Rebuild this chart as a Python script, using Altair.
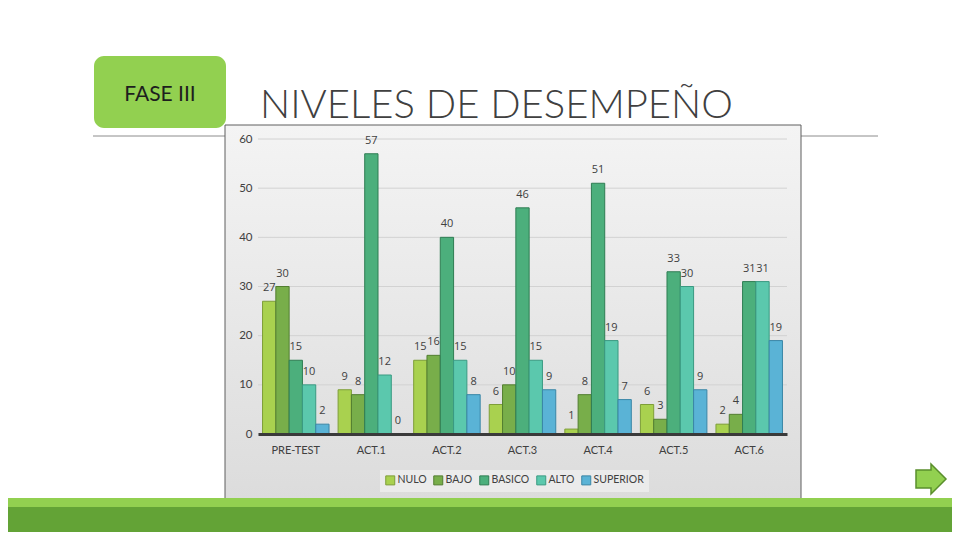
import altair as alt
import pandas as pd

# ---- data ----
categories = ["PRE-TEST", "ACT.1", "ACT.2", "ACT.3", "ACT.4", "ACT.5", "ACT.6"]
series = ["NULO", "BAJO", "BASICO", "ALTO", "SUPERIOR"]
nulo = [27, 9, 15, 6, 1, 6, 2]
bajo = [30, 8, 16, 10, 8, 3, 4]
basico = [15, 57, 40, 46, 51, 33, 31]
alto = [10, 12, 15, 15, 19, 30, 31]
superior = [2, 0, 8, 9, 7, 9, 19]
y_ticks = [0, 10, 20, 30, 40, 50, 60]

fills = ["#a9d14f", "#78ae4a", "#4caf7c", "#5bc8ad", "#5ab3d6"]
strokes = ["#7e9e38", "#527e30", "#2f7d53", "#3a9a82", "#3a86a6"]

values = {"NULO": nulo, "BAJO": bajo, "BASICO": basico, "ALTO": alto, "SUPERIOR": superior}
rows = []
for s in series:
    for c, v in zip(categories, values[s]):
        rows.append({"cat": c, "serie": s, "val": v})
df = pd.DataFrame(rows)
ticks_df = pd.DataFrame({"val": y_ticks})
one = pd.DataFrame({"a": [0]})

# ---- layout (plot area) ----
W, H = 529, 295
PL, PT = 250, 131
PR = 944 - PL - W
PB = 524 - PT - H
FONT = "Lato"
TXT = "#404040"

yscale = alt.Scale(domain=[0, 60])
yaxis = alt.Axis(title=None, values=y_ticks, grid=False, domain=False, ticks=False,
                 labelPadding=6, labelFontSize=11.5, labelColor=TXT, labelFont=FONT,
                 zindex=1)
xaxis = alt.Axis(title=None, labelAngle=0, domainColor="#3a3a3a", domainWidth=3,
                 ticks=False, labelPadding=10, labelFontSize=11, labelColor=TXT,
                 labelFont=FONT, zindex=1)
xscale = alt.Scale(paddingInner=0.12, paddingOuter=0.06)
xenc = alt.X("cat:N", sort=categories, scale=xscale, axis=xaxis)
xoff = alt.XOffset("serie:N", sort=series, scale=alt.Scale(paddingInner=0, paddingOuter=0))

# background decorations
rule_line = alt.Chart(one).mark_rule(color="#8c8c8c", strokeWidth=1).encode(
    x=alt.value(-165), x2=alt.value(620), y=alt.value(-3))

box = alt.Chart(one).mark_rect(
    fill=alt.Gradient(gradient="linear", x1=0, x2=0, y1=0, y2=1,
                      stops=[alt.GradientStop(color="#f4f4f4", offset=0),
                             alt.GradientStop(color="#dcdcdc", offset=1)]),
    stroke="#5e5e5e", strokeWidth=1).encode(
    x=alt.value(-33), x2=alt.value(543), y=alt.value(-14), y2=alt.value(360))

green_box = alt.Chart(one).mark_rect(fill="#92d050", cornerRadius=10).encode(
    x=alt.value(-164), x2=alt.value(-32), y=alt.value(-83), y2=alt.value(-11))

fase = alt.Chart(one).mark_text(text="FASE III", font=FONT, fontSize=21, color="#1e1e1e",
                                align="center", baseline="middle").encode(
    x=alt.value(-98), y=alt.value(-44))

title = alt.Chart(one).mark_text(text="NIVELES DE DESEMPEÑO", font="Lato", fontWeight=300,
                                 fontSize=40, color="#404040", align="left",
                                 baseline="alphabetic").encode(
    x=alt.value(2), y=alt.value(-21))

grid = alt.Chart(ticks_df).mark_rule(color="#d2d2d2", strokeWidth=1).encode(
    y=alt.Y("val:Q", scale=yscale, axis=yaxis), x=alt.value(0), x2=alt.value(W))

bars = alt.Chart(df).mark_bar(strokeWidth=1).encode(
    x=xenc,
    xOffset=xoff,
    y=alt.Y("val:Q", scale=yscale, axis=yaxis),
    fill=alt.Fill("serie:N", sort=series, scale=alt.Scale(domain=series, range=fills),
                  legend=alt.Legend(title=None, orient="none", legendX=122, legendY=331,
                                    direction="horizontal", symbolType="square",
                                    symbolSize=81, symbolStrokeColor="#6a6a6a",
                                    symbolStrokeWidth=1, labelFontSize=10.5, labelColor=TXT,
                                    labelFont=FONT, labelOffset=2, columnPadding=4,
                                    fillColor="#ebebeb", padding=5)),
    stroke=alt.Stroke("serie:N", sort=series, scale=alt.Scale(domain=series, range=strokes),
                      legend=None),
)

labels = alt.Chart(df).mark_text(baseline="bottom", dy=-8, fontSize=11, color=TXT,
                                 font="Open Sans").encode(
    x=xenc, xOffset=xoff,
    y=alt.Y("val:Q", scale=yscale, axis=yaxis), text="val:Q")

band_light = alt.Chart(one).mark_rect(fill="#92d050").encode(
    x=alt.value(-258), x2=alt.value(702), y=alt.value(359), y2=alt.value(368))
band_dark = alt.Chart(one).mark_rect(fill="#63a336").encode(
    x=alt.value(-258), x2=alt.value(702), y=alt.value(368), y2=alt.value(420))

arrow = alt.Chart(one).mark_point(
    shape="M-1,-0.6L0,-0.6L0,-1L1,0L0,1L0,0.6L-1,0.6Z",
    size=900, filled=True, fill="#92d050", stroke="#5a8f2c", strokeWidth=1.5,
    opacity=1).encode(x=alt.value(673), y=alt.value(340))

chart = alt.layer(
    rule_line, box, green_box, fase, title, grid, bars, labels, band_light, band_dark, arrow
).properties(
    width=W, height=H,
    padding={"left": PL, "top": PT, "right": PR, "bottom": PB},
    autosize=alt.AutoSizeParams(type="none"),
    background="white",
).configure_view(stroke=None)

chart.save("out.html", embed_options={"renderer": "svg", "actions": False})
